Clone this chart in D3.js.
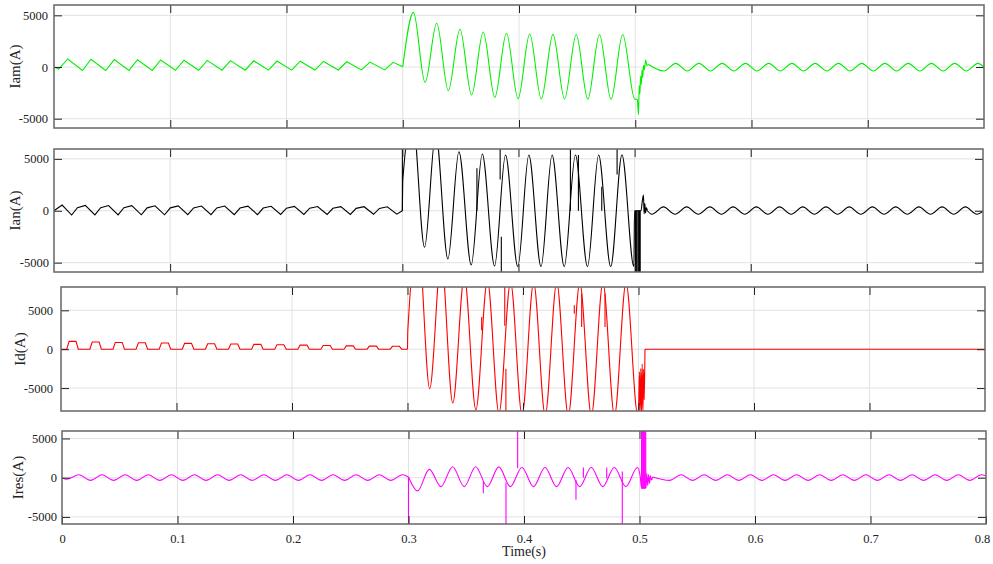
<!DOCTYPE html>
<html>
<head>
<meta charset="utf-8">
<script src="https://cdn.jsdelivr.net/npm/d3@7"></script>
<style>
body { margin: 0; background: #fff; }
svg text { font-family: "Liberation Serif", "Times New Roman", serif; fill: #222; }
</style>
</head>
<body>
<svg id="chart" width="993" height="564"></svg>
<script>

// ---- data: [time (s), current (A)] ----

// Iam (green)
var iamPre = [[0,0],[0.004,-200],[0.0118,780],[0.0245,-340],[0.0318,750],[0.0445,-340],[0.0518,720],
  [0.0645,-330],[0.0718,700],[0.0845,-330],[0.0918,680],[0.1045,-320],[0.1118,660],[0.1245,-320],[0.1318,640],
  [0.1445,-310],[0.1518,620],[0.1645,-310],[0.1718,600],[0.1845,-300],[0.1918,580],[0.2045,-300],[0.2118,560],
  [0.2245,-290],[0.2318,540],[0.2445,-290],[0.2518,510],[0.2645,-280],[0.2718,480],[0.2845,-280],[0.2918,450],[0.3,30]];
var iamFault = [[0.3,30],[0.3092,5290],[0.3192,-1480],[0.3292,4230],[0.3392,-2290],[0.3492,3650],[0.3592,-2710],
  [0.3692,3390],[0.3792,-2930],[0.3892,3260],[0.3992,-3060],[0.4092,3190],[0.4192,-3095],[0.4292,3160],[0.4392,-3100],
  [0.4492,3150],[0.4592,-3110],[0.4692,3150],[0.4792,-3110],[0.4892,3150],[0.4995,-3100],[0.5018,-3150],[0.5028,-4620],
  [0.5034,-1800],[0.504,-2600],[0.5046,-900],[0.5052,-1700],[0.5058,-300],[0.5064,-1000],[0.5072,200],[0.5078,-300],
  [0.509,680],[0.51,150],[0.5115,250]];
var iamPost = [[0.5115,250],[0.5248,-390],[0.5348,350],[0.5448,-390],[0.5548,350],[0.5648,-390],[0.5748,350],
  [0.5848,-390],[0.5948,350],[0.6048,-390],[0.6148,350],[0.6248,-390],[0.6348,350],[0.6448,-390],[0.6548,350],
  [0.6648,-390],[0.6748,350],[0.6848,-390],[0.6948,350],[0.7048,-390],[0.7148,350],[0.7248,-390],[0.7348,350],
  [0.7448,-390],[0.7548,350],[0.7648,-390],[0.7748,350],[0.7848,-390],[0.7948,350],[0.8,-20]];
var iamSpikes = [];

// Ian (black)
var ianPre = [[0,0],[0.007,550],[0.0152,-410],[0.0202,300],[0.027,520],[0.0352,-400],[0.0402,290],[0.047,500],
  [0.0552,-400],[0.0602,290],[0.067,490],[0.0752,-390],[0.0802,280],[0.087,480],[0.0952,-390],[0.1002,280],[0.107,470],
  [0.1152,-380],[0.1202,270],[0.127,460],[0.1352,-380],[0.1402,270],[0.147,450],[0.1552,-370],[0.1602,260],[0.167,440],
  [0.1752,-370],[0.1802,260],[0.187,430],[0.1952,-360],[0.2002,250],[0.207,420],[0.2152,-360],[0.2202,250],[0.227,410],
  [0.2352,-350],[0.2402,240],[0.247,400],[0.2552,-350],[0.2602,230],[0.267,390],[0.2752,-340],[0.2802,220],[0.287,380],
  [0.2952,-330],[0.3,0]];
var ianFault = [[0.3,0],[0.3004,3000],[0.3087,9100],[0.3191,-3520],[0.3287,7500],[0.3392,-4650],[0.3487,5690],
  [0.3593,-5225],[0.3688,5470],[0.3794,-5320],[0.3888,5370],[0.3994,-5386],[0.4089,5370],[0.4194,-5390],[0.4289,5370],
  [0.4394,-5390],[0.449,5370],[0.4594,-5390],[0.469,5370],[0.4794,-5390],[0.4891,5370],[0.4994,-5390],[0.4999,0],
  [0.5055,0],[0.5066,900],[0.5076,1520],[0.5082,-300],[0.5088,700],[0.5094,-200],[0.5102,300],[0.511,0]];
var ianPost = [[0.511,0],[0.5148,-330],[0.5248,370],[0.5348,-330],[0.5448,370],[0.5548,-330],[0.5648,370],
  [0.5748,-330],[0.5848,370],[0.5948,-330],[0.6048,370],[0.6148,-330],[0.6248,370],[0.6348,-330],[0.6448,370],
  [0.6548,-330],[0.6648,370],[0.6748,-330],[0.6848,370],[0.6948,-330],[0.7048,370],[0.7148,-330],[0.7248,370],
  [0.7348,-330],[0.7448,370],[0.7548,-330],[0.7648,370],[0.7748,-330],[0.7848,370],[0.7948,-330],[0.8,-60]];
var ianSpikes = [[0.3,0,6500],[0.3642,4100,0],[0.3842,6500,3000],[0.3852,-2500,-6500],[0.4447,6500,0],
  [0.4516,5370,0],[0.4717,2320,0],[0.4849,6500,3500],[0.5008,0,-6500],[0.5014,0,-6500],[0.502,0,-6500],
  [0.503,0,-6500],[0.5036,0,-6500],[0.5042,0,-6500],[0.5048,0,-6500]];

// Id (red)
var idPre = [[0,0],[0.005,0],[0.007,1010],[0.013,1010],[0.015,0],[0.025,0],[0.027,930],[0.033,930],[0.035,0],
  [0.045,0],[0.047,870],[0.053,870],[0.055,0],[0.065,0],[0.067,830],[0.073,830],[0.075,0],
  [0.085,0],[0.087,790],[0.093,790],[0.095,0],[0.105,0],[0.107,750],[0.113,750],[0.115,0],
  [0.125,0],[0.127,700],[0.133,700],[0.135,0],[0.145,0],[0.147,660],[0.153,660],[0.155,0],
  [0.165,0],[0.167,620],[0.173,620],[0.175,0],[0.185,0],[0.187,570],[0.193,570],[0.195,0],
  [0.205,0],[0.207,520],[0.213,520],[0.215,0],[0.225,0],[0.227,470],[0.233,470],[0.235,0],
  [0.245,0],[0.247,430],[0.253,430],[0.255,0],[0.265,0],[0.267,400],[0.273,400],[0.275,0],
  [0.285,0],[0.287,370],[0.293,370],[0.295,0],[0.3,0]];
var idFault = [[0.3,0],[0.3003,2430],[0.3092,14400],[0.3192,-5073],[0.3292,11700],[0.3392,-6917],[0.3492,9340],
  [0.3592,-7774],[0.3692,8860],[0.3792,-8250],[0.3892,8630],[0.3992,-8450],[0.4092,8560],[0.4192,-8485],[0.4292,8530],
  [0.4392,-8500],[0.4492,8520],[0.4592,-8500],[0.4692,8520],[0.4792,-8500],[0.4892,8520],[0.4994,-8490],[0.5002,-7000],
  [0.5008,-2900],[0.5014,-8200],[0.502,-2500],[0.5026,-8200],[0.5032,-1900],[0.5038,-8200],[0.5044,-2600],[0.505,-6500],
  [0.5056,0]];
var idPost = [[0.5056,0],[0.8,0]];
var idSpikes = [[0.3642,4140,2430],[0.3842,9000,3000],[0.3852,-2500,-9000],[0.4444,5640,4560],
  [0.4508,7150,2850],[0.471,7150,2850]];

// Ires (magenta)
var iresPre = [[0,0],[0.004,-200],[0.0147,370],[0.0247,-340],[0.0347,370],[0.0447,-340],[0.0547,370],[0.0647,-340],
  [0.0747,370],[0.0847,-340],[0.0947,370],[0.1047,-340],[0.1147,370],[0.1247,-340],[0.1347,370],[0.1447,-340],
  [0.1547,370],[0.1647,-340],[0.1747,370],[0.1847,-340],[0.1947,370],[0.2047,-340],[0.2147,370],[0.2247,-340],
  [0.2347,370],[0.2447,-340],[0.2547,370],[0.2647,-340],[0.2747,370],[0.2847,-340],[0.2947,370],[0.3,100]];
var iresFault = [[0.3,100],[0.3079,-1684],[0.318,1060],[0.3281,-1135],[0.3382,1397],[0.3482,-1135],[0.3582,1400],
  [0.3682,-1135],[0.3782,1380],[0.3882,-1135],[0.3982,1300],[0.4082,-1135],[0.4182,1300],[0.4282,-1135],[0.4382,1300],
  [0.4482,-1135],[0.4582,1300],[0.4682,-1135],[0.4782,1300],[0.4882,-1135],[0.4982,1300],[0.5005,300],[0.5018,-1340],
  [0.5055,-1300],[0.5063,560],[0.5071,-1000],[0.5079,400],[0.5087,-700],[0.5095,250],[0.5104,-300],[0.5115,100]];
var iresPost = [[0.5115,100],[0.526,-340],[0.536,370],[0.546,-340],[0.556,370],[0.566,-340],[0.576,370],
  [0.586,-340],[0.596,370],[0.606,-340],[0.616,370],[0.626,-340],[0.636,370],[0.646,-340],[0.656,370],
  [0.666,-340],[0.676,370],[0.686,-340],[0.696,370],[0.706,-340],[0.716,370],[0.726,-340],[0.736,370],
  [0.746,-340],[0.756,370],[0.766,-340],[0.776,370],[0.786,-340],[0.796,370],[0.8,250]];
var iresSpikes = [[0.3,100,-6500],[0.3648,-500,-1980],[0.3844,-600,-6500],[0.3945,1200,6500],[0.445,-300,-2820],
  [0.4514,1300,0],[0.4716,1300,-100],[0.4851,800,-6500],[0.5018,-1340,6500],[0.5024,-1340,6500],[0.503,-1340,6500],
  [0.5036,-1340,6500],[0.5042,-1340,6500],[0.5048,-1340,6500],[0.5054,-1340,6500]];

// axis ticks
var xGrid = [0.1, 0.2, 0.3, 0.4, 0.5, 0.6, 0.7];
var xLabels = [0, 0.1, 0.2, 0.3, 0.4, 0.5, 0.6, 0.7, 0.8];
var yTicks = [-5000, 0, 5000];

var linear = d3.curveLinear, smooth = d3.curveMonotoneX;

var panels = [
  { name: "Iam(A)", color: "#00f000", left: 54, right: 984, top: 5, bottom: 128, yDom: [-5900, 6000],
    parts: [[iamPre, linear], [iamFault, smooth], [iamPost, smooth]], spikes: iamSpikes, pad: 6, labelX: 20 },
  { name: "Ian(A)", color: "#000000", left: 54, right: 983, top: 149, bottom: 272, yDom: [-5900, 5950],
    parts: [[ianPre, linear], [ianFault, smooth], [ianPost, smooth]], spikes: ianSpikes, pad: 5, labelX: 20 },
  { name: "Id(A)", color: "#ff0000", left: 61, right: 985, top: 287, bottom: 411, yDom: [-7950, 8000],
    parts: [[idPre, linear], [idFault, smooth], [idPost, linear]], spikes: idSpikes, pad: 8, labelX: 25 },
  { name: "Ires(A)", color: "#ff00ff", left: 62, right: 986, top: 431, bottom: 524, yDom: [-5900, 5950],
    parts: [[iresPre, smooth], [iresFault, smooth], [iresPost, smooth]], spikes: iresSpikes, pad: 5, labelX: 23 }
];

var svg = d3.select("#chart");
var defs = svg.append("defs");

panels.forEach(function (p, i) {
  var x = d3.scaleLinear().domain([0, 0.8]).range([p.left, p.right]);
  var y = d3.scaleLinear().domain(p.yDom).range([p.bottom, p.top]);
  var g = svg.append("g").attr("class", "panel");

  defs.append("clipPath").attr("id", "clip" + i)
    .append("rect")
    .attr("x", p.left).attr("y", p.top)
    .attr("width", p.right - p.left).attr("height", p.bottom - p.top);

  // grid
  g.selectAll(".vgrid").data(xGrid).enter().append("line")
    .attr("x1", function (d) { return x(d); }).attr("x2", function (d) { return x(d); })
    .attr("y1", p.top).attr("y2", p.bottom)
    .style("stroke", "#e2e2e2");
  g.selectAll(".hgrid").data(yTicks).enter().append("line")
    .attr("x1", p.left).attr("x2", p.right)
    .attr("y1", function (d) { return y(d); }).attr("y2", function (d) { return y(d); })
    .style("stroke", "#e2e2e2");

  // traces
  var plot = g.append("g").attr("clip-path", "url(#clip" + i + ")");
  p.parts.forEach(function (part) {
    var line = d3.line()
      .x(function (d) { return x(d[0]); })
      .y(function (d) { return y(d[1]); })
      .curve(part[1]);
    plot.append("path").datum(part[0])
      .attr("d", line)
      .style("fill", "none")
      .style("stroke", p.color)
      .style("stroke-width", 1.1);
  });
  plot.selectAll(".spike").data(p.spikes).enter().append("line")
    .attr("x1", function (d) { return x(d[0]); }).attr("x2", function (d) { return x(d[0]); })
    .attr("y1", function (d) { return y(d[1]); }).attr("y2", function (d) { return y(d[2]); })
    .style("stroke", p.color)
    .style("stroke-width", 1.1);

  // axes, ticks pointing inward
  var fmt = function (d) { return String(d); };
  var left = g.append("g").attr("transform", "translate(" + p.left + ",0)")
    .call(d3.axisLeft(y).tickValues(yTicks).tickSize(-8).tickPadding(p.pad).tickFormat(fmt));
  var right = g.append("g").attr("transform", "translate(" + p.right + ",0)")
    .call(d3.axisRight(y).tickValues(yTicks).tickSize(-8).tickFormat(""));
  var top = g.append("g").attr("transform", "translate(0," + p.top + ")")
    .call(d3.axisTop(x).tickValues(xGrid).tickSize(-8).tickFormat(""));
  var bottom = g.append("g").attr("transform", "translate(0," + p.bottom + ")");
  if (i === panels.length - 1) {
    bottom.call(d3.axisBottom(x).tickValues(xLabels).tickSize(-8).tickPadding(10).tickFormat(fmt));
    // keep the last label inside the window
    bottom.selectAll(".tick text").filter(function (d) { return d === 0.8; }).attr("dx", -4);
  } else {
    bottom.call(d3.axisBottom(x).tickValues(xGrid).tickSize(-8).tickFormat(""));
  }
  [left, right, top, bottom].forEach(function (a) {
    a.select(".domain").remove();
    a.selectAll(".tick line").style("stroke", "#222");
    a.selectAll("text").style("font-size", "12.5px").style("fill", "#222")
      .style("font-family", "'Liberation Serif', serif");
  });

  // frame
  g.append("rect")
    .attr("x", p.left).attr("y", p.top)
    .attr("width", p.right - p.left).attr("height", p.bottom - p.top)
    .style("fill", "none").style("stroke", "#666").style("stroke-width", 1.5);

  // y label
  g.append("text")
    .attr("transform", "translate(" + p.labelX + "," + ((p.top + p.bottom) / 2) + ") rotate(-90)")
    .attr("text-anchor", "middle")
    .style("font-size", "15px")
    .text(p.name);
});

var last = panels[panels.length - 1];
svg.append("text")
  .attr("x", (last.left + last.right) / 2)
  .attr("y", 556)
  .attr("text-anchor", "middle")
  .style("font-size", "14px")
  .text("Time(s)");

</script>
</body>
</html>
